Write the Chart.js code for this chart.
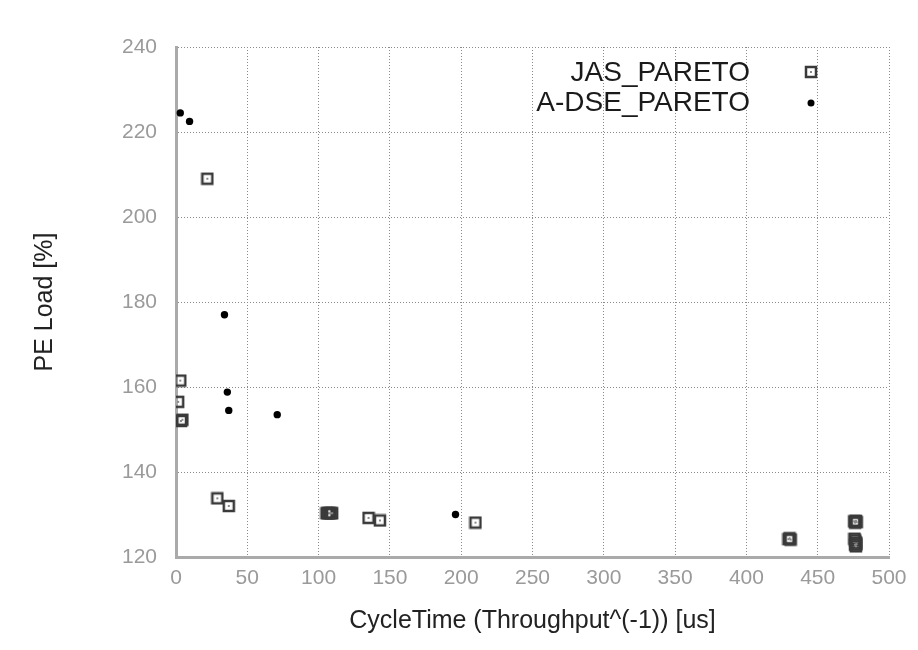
<!DOCTYPE html>
<html>
<head>
<meta charset="utf-8">
<script src="https://cdn.jsdelivr.net/npm/chart.js@4.4.1/dist/chart.umd.min.js"></script>
<style>
  html, body { margin: 0; padding: 0; background: #fff; }
  #wrap { width: 918px; height: 650px; }
</style>
</head>
<body>
<div id="wrap"><canvas id="chart" width="918" height="650"></canvas></div>
<script>
"use strict";
// data (overlapping marks kept as separate points)
const jasX = [22, 3, 1.5, 3.5, 4.5, 29, 37, 105.5, 106.5, 107.5, 108.5, 109.5, 135, 143, 210,
    429.5, 430.3, 431, 475.6, 476.2, 476.8, 477.3, 475.8, 476.4, 477, 476.2, 476.8, 477.2];
const jasY = [209, 161.5, 156.5, 152, 152.3, 133.8, 132, 130.3, 130.3, 130.3, 130.3, 130.3, 129.2, 128.6, 128.1,
    124.2, 124.4, 124.1, 128.4, 128.1, 128.5, 128.2, 124.3, 123.9, 123.4, 122.9, 122.5, 123.0];
const dseX = [3, 9.5, 34, 36, 37, 71, 196];
const dseY = [224.5, 222.5, 177, 158.8, 154.5, 153.5, 130];
const seriesNames = ["JAS_PARETO", "A-DSE_PARETO"];
const xTicks = [0, 50, 100, 150, 200, 250, 300, 350, 400, 450, 500];
const yTicks = [120, 140, 160, 180, 200, 220, 240];

const FONT = "'Liberation Sans', Arial, Helvetica, sans-serif";

function toPoints(xs, ys) {
    return xs.map((x, i) => ({ x: x, y: ys[i] }));
}

// gnuplot-ish open square with a tiny dot inside (no fill, so overlaps darken)
function makeSquare() {
    const c = document.createElement("canvas");
    c.width = 14; c.height = 14;
    const g = c.getContext("2d");
    g.strokeStyle = "#3a3a3a";
    g.lineWidth = 2.5;
    g.strokeRect(2, 2, 10, 10);
    g.fillStyle = "#888";
    g.fillRect(6, 6, 2, 2);
    return c;
}
const squareImg = makeSquare();

const legendPlugin = {
    id: "insideLegend",
    afterDatasetsDraw(chart) {
        const ctx = chart.ctx;
        ctx.save();
        ctx.font = "28px " + FONT;
        ctx.textAlign = "right";
        ctx.textBaseline = "middle";
        const rows = [73, 103];
        chart.data.datasets.forEach((ds, i) => {
            ctx.fillStyle = "#1a1a1a";
            ctx.fillText(ds.label, 750, rows[i]);
            if (i === 0) {
                ctx.drawImage(squareImg, 804, rows[i] - 8);
            } else {
                ctx.beginPath();
                ctx.fillStyle = "#000";
                ctx.arc(811, rows[i], 3.5, 0, Math.PI * 2);
                ctx.fill();
            }
        });
        ctx.restore();
    }
};

const gridStyle = {
    color: "#8a8a8a",
    lineWidth: 1,
    drawTicks: false,
    tickLength: 0
};
// in v4 border.dash styles the grid lines, the axis line itself stays solid
const borderStyle = { display: true, color: "#aaa", width: 3, dash: [1, 2] };

new Chart(document.getElementById("chart"), {
    type: "scatter",
    data: {
        datasets: [
            {
                label: seriesNames[0],
                data: toPoints(jasX, jasY),
                pointStyle: squareImg,
                pointRadius: 7
            },
            {
                label: seriesNames[1],
                data: toPoints(dseX, dseY),
                pointStyle: "circle",
                pointRadius: 3.7,
                backgroundColor: "#000",
                borderColor: "#000",
                borderWidth: 0
            }
        ]
    },
    options: {
        responsive: false,
        animation: false,
        layout: { padding: { left: 0, right: 29, top: 47, bottom: 0 } },
        plugins: {
            legend: { display: false },
            tooltip: { enabled: false }
        },
        scales: {
            x: {
                type: "linear",
                min: 0,
                max: 500,
                afterBuildTicks: (axis) => { axis.ticks = xTicks.map(v => ({ value: v })); },
                afterFit: (axis) => { axis.height = 93; },
                grid: gridStyle,
                border: borderStyle,
                ticks: {
                    color: "#9a9a9a",
                    padding: 9,
                    maxRotation: 0,
                    font: { family: FONT, size: 21 }
                },
                title: {
                    display: true,
                    text: "CycleTime (Throughput^(-1)) [us]",
                    color: "#222",
                    padding: { top: 0, bottom: 14 },
                    font: { family: FONT, size: 25 }
                }
            },
            y: {
                type: "linear",
                min: 120,
                max: 240,
                afterBuildTicks: (axis) => { axis.ticks = yTicks.map(v => ({ value: v })); },
                afterFit: (axis) => { axis.width = 176; },
                grid: gridStyle,
                border: borderStyle,
                ticks: {
                    color: "#9a9a9a",
                    padding: 19,
                    font: { family: FONT, size: 21 }
                },
                title: {
                    display: true,
                    text: "PE Load [%]",
                    color: "#222",
                    padding: { top: 30, bottom: 0 },
                    font: { family: FONT, size: 25 }
                }
            }
        }
    },
    plugins: [legendPlugin]
});
</script>
</body>
</html>
